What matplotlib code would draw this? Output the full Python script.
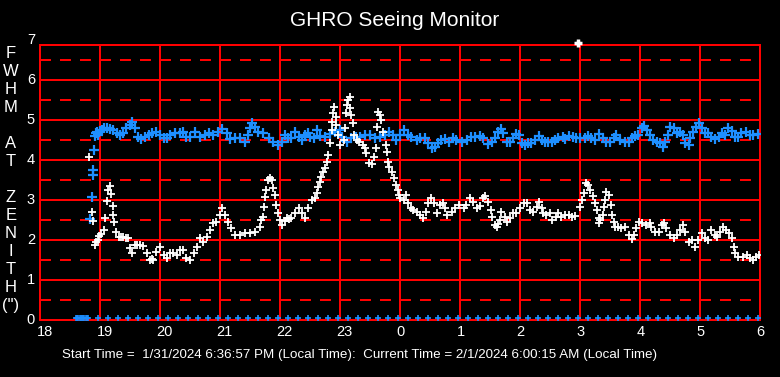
import matplotlib
matplotlib.use("Agg")
import matplotlib.pyplot as plt
import matplotlib.transforms as mtransforms

plt.rcParams['font.family'] = ['Liberation Sans', 'DejaVu Sans']
plt.rcParams['lines.scale_dashes'] = False

# ---------------- data ----------------
# hours since midnight of 1/31 (24 = midnight, 30 = 6 AM)
white_t = [18.82, 18.87, 18.89, 18.92, 18.94, 18.96, 18.99, 19.02, 19.07, 19.09, 19.11, 19.14, 19.17, 19.19,
           19.21, 19.22, 19.24, 19.26, 19.31, 19.35, 19.39, 19.43, 19.46, 19.50, 19.53, 19.58, 19.62, 19.67,
           19.72, 19.78, 19.83, 19.86, 19.89, 19.94, 20.00, 20.06, 20.11, 20.17, 20.22, 20.28, 20.33, 20.39,
           20.44, 20.50, 20.56, 20.61, 20.67, 20.72, 20.78, 20.83, 20.89, 20.94, 21.00, 21.04, 21.08, 21.14,
           21.19, 21.25, 21.33, 21.42, 21.50, 21.58, 21.67, 21.69, 21.71, 21.73, 21.75, 21.77, 21.80, 21.83,
           21.86, 21.89, 21.92, 21.94, 21.97, 22.00, 22.04, 22.08, 22.11, 22.15, 22.19, 22.25, 22.31, 22.36,
           22.42, 22.47, 22.53, 22.58, 22.62, 22.64, 22.67, 22.69, 22.72, 22.75, 22.78, 22.80, 22.83, 22.86,
           22.87, 22.89, 22.90, 22.93, 22.94, 22.97, 23.00, 23.06, 23.08, 23.10, 23.11, 23.14, 23.16, 23.17,
           23.19, 23.22, 23.24, 23.28, 23.32, 23.38, 23.42, 23.44, 23.49, 23.53, 23.57, 23.60, 23.62, 23.64,
           23.67, 23.69, 23.72, 23.77, 23.78, 23.80, 23.82, 23.86, 23.90, 23.93, 23.96, 23.98, 24.00, 24.06,
           24.10, 24.14, 24.18, 24.22, 24.28, 24.33, 24.39, 24.43, 24.47, 24.51, 24.56, 24.61, 24.67, 24.72,
           24.75, 24.79, 24.86, 24.92, 24.99, 25.06, 25.10, 25.17, 25.22, 25.28, 25.33, 25.38, 25.42, 25.47,
           25.51, 25.54, 25.58, 25.62, 25.64, 25.67, 25.69, 25.75, 25.79, 25.83, 25.89, 25.94, 26.00, 26.06,
           26.11, 26.17, 26.22, 26.28, 26.32, 26.36, 26.39, 26.44, 26.50, 26.54, 26.60, 26.64, 26.69, 26.75,
           26.81, 26.86, 26.92, 27.00, 27.03, 27.06, 27.10, 27.14, 27.17, 27.21, 27.25, 27.28, 27.31, 27.32,
           27.34, 27.38, 27.40, 27.42, 27.44, 27.49, 27.51, 27.53, 27.56, 27.58, 27.64, 27.69, 27.75, 27.81,
           27.86, 27.90, 27.94, 27.99, 28.04, 28.10, 28.16, 28.19, 28.25, 28.31, 28.36, 28.40, 28.44, 28.50,
           28.56, 28.61, 28.67, 28.71, 28.75, 28.81, 28.86, 28.92, 28.97, 29.03, 29.08, 29.14, 29.19, 29.25,
           29.29, 29.33, 29.38, 29.43, 29.49, 29.53, 29.56, 29.58, 29.64, 29.72, 29.78, 29.83, 29.89, 29.94,
           29.99]
white_v = [4.07, 2.69, 2.48, 1.88, 1.95, 2.00, 2.10, 2.15, 2.25, 2.54, 2.97, 3.25, 3.36, 3.15,
           2.86, 2.63, 2.44, 2.21, 2.08, 2.08, 2.08, 2.06, 2.05, 1.79, 1.67, 1.88, 1.88, 1.88,
           1.85, 1.67, 1.50, 1.52, 1.50, 1.71, 1.83, 1.63, 1.54, 1.67, 1.67, 1.63, 1.75, 1.75,
           1.54, 1.50, 1.67, 1.83, 2.04, 1.96, 2.08, 2.25, 2.42, 2.46, 2.63, 2.79, 2.63, 2.46,
           2.29, 2.13, 2.13, 2.17, 2.17, 2.21, 2.33, 2.50, 2.58, 2.83, 3.07, 3.25, 3.50, 3.54,
           3.50, 3.29, 3.13, 2.88, 2.67, 2.50, 2.38, 2.48, 2.54, 2.52, 2.54, 2.67, 2.79, 2.67,
           2.54, 2.79, 3.00, 3.04, 3.17, 3.33, 3.46, 3.58, 3.71, 3.79, 3.96, 4.13, 4.42, 4.75,
           4.94, 5.17, 5.33, 5.08, 4.88, 4.63, 4.38, 4.50, 4.79, 5.17, 5.38, 5.50, 5.58, 5.29,
           5.13, 4.92, 4.63, 4.50, 4.46, 4.38, 4.29, 4.17, 3.92, 3.90, 4.08, 4.29, 4.83, 5.21,
           5.13, 5.00, 4.71, 4.38, 4.21, 3.96, 3.83, 3.71, 3.54, 3.38, 3.25, 3.13, 3.04, 3.00,
           3.13, 2.92, 2.79, 2.75, 2.71, 2.63, 2.54, 2.71, 2.92, 3.04, 2.92, 2.67, 2.88, 2.92,
           2.79, 2.63, 2.71, 2.79, 2.88, 2.79, 2.88, 3.04, 2.96, 2.79, 2.85, 3.04, 3.10, 2.94,
           2.75, 2.58, 2.38, 2.33, 2.40, 2.50, 2.71, 2.58, 2.46, 2.54, 2.67, 2.67, 2.79, 2.92,
           2.93, 2.75, 2.71, 2.83, 2.96, 2.79, 2.67, 2.63, 2.67, 2.50, 2.58, 2.67, 2.58, 2.63,
           2.63, 2.58, 2.60, 2.83, 3.00, 3.17, 3.42, 3.38, 3.25, 3.10, 2.92, 2.75, 2.54, 2.42,
           2.50, 2.63, 2.83, 3.01, 3.21, 3.13, 2.88, 2.63, 2.46, 2.33, 2.33, 2.29, 2.33, 2.13,
           2.02, 2.13, 2.29, 2.46, 2.42, 2.38, 2.42, 2.33, 2.21, 2.21, 2.38, 2.42, 2.29, 2.13,
           2.04, 2.13, 2.25, 2.38, 2.21, 1.96, 2.00, 1.83, 2.00, 2.17, 2.04, 2.00, 2.25, 2.13,
           2.08, 2.21, 2.33, 2.25, 2.17, 2.04, 1.83, 1.67, 1.58, 1.58, 1.63, 1.54, 1.50, 1.58,
           1.63]
# off-scale reading near 3 AM
white_out_t = [26.96]
white_out_v = [6.93]

blue_t = [18.83, 18.86, 18.88, 18.89, 18.90, 18.92, 18.93, 18.95, 18.97, 19.00, 19.03, 19.06, 19.11, 19.17,
          19.22, 19.28, 19.33, 19.39, 19.44, 19.50, 19.54, 19.58, 19.64, 19.69, 19.75, 19.81, 19.86, 19.93,
          20.00, 20.06, 20.11, 20.17, 20.25, 20.33, 20.39, 20.44, 20.50, 20.58, 20.67, 20.75, 20.81, 20.89,
          20.97, 21.04, 21.11, 21.17, 21.25, 21.33, 21.42, 21.47, 21.50, 21.54, 21.58, 21.64, 21.72, 21.81,
          21.89, 21.97, 22.03, 22.08, 22.14, 22.19, 22.25, 22.31, 22.36, 22.42, 22.47, 22.50, 22.56, 22.61,
          22.67, 22.75, 22.83, 22.92, 23.00, 23.04, 23.11, 23.18, 23.26, 23.33, 23.42, 23.50, 23.58, 23.67,
          23.75, 23.82, 23.89, 23.94, 24.00, 24.07, 24.14, 24.19, 24.28, 24.33, 24.42, 24.47, 24.53, 24.58,
          24.64, 24.69, 24.75, 24.82, 24.89, 24.94, 25.03, 25.11, 25.18, 25.25, 25.33, 25.39, 25.47, 25.53,
          25.58, 25.64, 25.68, 25.72, 25.78, 25.83, 25.89, 25.94, 25.99, 26.03, 26.08, 26.14, 26.19, 26.25,
          26.31, 26.36, 26.42, 26.47, 26.53, 26.58, 26.64, 26.71, 26.75, 26.82, 26.89, 26.94, 27.00, 27.08,
          27.14, 27.19, 27.25, 27.32, 27.38, 27.44, 27.50, 27.56, 27.60, 27.67, 27.75, 27.81, 27.86, 27.92,
          27.97, 28.03, 28.07, 28.11, 28.17, 28.22, 28.28, 28.33, 28.38, 28.42, 28.46, 28.50, 28.56, 28.61,
          28.67, 28.71, 28.75, 28.81, 28.84, 28.89, 28.93, 28.99, 29.03, 29.08, 29.14, 29.19, 29.25, 29.31,
          29.36, 29.42, 29.47, 29.53, 29.58, 29.64, 29.69, 29.77, 29.83, 29.89, 29.97]
blue_v = [2.52, 3.08, 3.63, 3.75, 4.25, 4.60, 4.67, 4.70, 4.62, 4.72, 4.76, 4.79, 4.80, 4.77,
          4.75, 4.67, 4.63, 4.68, 4.79, 4.88, 4.96, 4.80, 4.58, 4.52, 4.58, 4.63, 4.67, 4.71,
          4.63, 4.54, 4.54, 4.63, 4.68, 4.67, 4.71, 4.58, 4.57, 4.71, 4.58, 4.63, 4.67, 4.63,
          4.71, 4.77, 4.67, 4.52, 4.54, 4.54, 4.46, 4.63, 4.79, 4.92, 4.83, 4.71, 4.67, 4.54,
          4.46, 4.38, 4.46, 4.63, 4.54, 4.54, 4.71, 4.58, 4.50, 4.63, 4.67, 4.58, 4.54, 4.75,
          4.61, 4.58, 4.65, 4.69, 4.75, 4.58, 4.46, 4.54, 4.58, 4.58, 4.63, 4.63, 4.54, 4.57,
          4.63, 4.71, 4.63, 4.50, 4.63, 4.75, 4.63, 4.58, 4.50, 4.54, 4.54, 4.42, 4.29, 4.33,
          4.42, 4.50, 4.52, 4.46, 4.54, 4.50, 4.46, 4.50, 4.58, 4.58, 4.60, 4.56, 4.40, 4.44,
          4.55, 4.70, 4.77, 4.67, 4.46, 4.46, 4.54, 4.65, 4.63, 4.42, 4.38, 4.42, 4.42, 4.50,
          4.60, 4.50, 4.46, 4.46, 4.46, 4.50, 4.54, 4.57, 4.52, 4.60, 4.58, 4.54, 4.54, 4.54,
          4.60, 4.54, 4.50, 4.64, 4.54, 4.46, 4.46, 4.54, 4.63, 4.51, 4.46, 4.46, 4.54, 4.60,
          4.63, 4.79, 4.85, 4.75, 4.63, 4.50, 4.46, 4.42, 4.32, 4.46, 4.63, 4.83, 4.79, 4.67,
          4.71, 4.63, 4.42, 4.38, 4.54, 4.71, 4.83, 4.92, 4.79, 4.67, 4.67, 4.58, 4.52, 4.58,
          4.67, 4.63, 4.79, 4.73, 4.58, 4.58, 4.67, 4.71, 4.63, 4.63, 4.65]

# zero readings (blue) along the baseline
zero_t = [18.60, 18.62, 18.64, 18.66, 18.68, 18.70, 18.72, 18.74, 18.76, 18.78, 18.80,
          18.97, 19.13, 19.30, 19.47, 19.63, 19.80, 19.97, 20.13, 20.30, 20.47, 20.63, 20.80,
          20.97, 21.13, 21.30, 21.47, 21.63, 21.80, 21.97, 22.13, 22.30, 22.47, 22.63, 22.80,
          22.97, 23.13, 23.30, 23.47, 23.63, 23.80, 23.97, 24.13, 24.30, 24.47, 24.63, 24.80,
          24.97, 25.13, 25.30, 25.47, 25.63, 25.80, 25.97, 26.13, 26.30, 26.47, 26.63, 26.80,
          26.97, 27.13, 27.30, 27.47, 27.63, 27.80, 27.97, 28.13, 28.30, 28.47, 28.63, 28.80,
          28.97, 29.13, 29.30, 29.47, 29.63, 29.80, 29.97]
zero_v = [0.0] * len(zero_t)

x_ticks = [18, 19, 20, 21, 22, 23, 24, 25, 26, 27, 28, 29, 30]
x_labels = ["18", "19", "20", "21", "22", "23", "0", "1", "2", "3", "4", "5", "6"]
y_ticks = [0, 1, 2, 3, 4, 5, 6, 7]
ylabel_chars = ["F", "W", "H", "M", "", "A", "T", "", "Z", "E", "N", "I", "T", "H", "(\")"]

title = "GHRO Seeing Monitor"
footer = "Start Time =  1/31/2024 6:36:57 PM (Local Time):  Current Time = 2/1/2024 6:00:15 AM (Local Time)"

# ---------------- figure ----------------
W, H = 780, 377
fig = plt.figure(figsize=(W / 100, H / 100), dpi=100, facecolor="black")
ax = fig.add_axes([40 / W, 1 - 320 / H, 720 / W, 275 / H], facecolor="black")
ax.set_xlim(18, 30)
ax.set_ylim(0, 6.875)

RED = "#ff0000"
BLUE = "#1e8fff"
LW = 1.44

# grid
for yv in [0.5, 1.5, 2.5, 3.5, 4.5, 5.5, 6.5]:
    ax.axhline(yv, color=RED, lw=LW, dashes=(7.9, 6.5), zorder=1, snap=True)
for yv in y_ticks[1:-1]:
    ax.axhline(yv, color=RED, lw=LW, zorder=1, snap=True)
for xv in x_ticks[1:-1]:
    ax.axvline(xv, color=RED, lw=LW, zorder=1, snap=True)
for s in ax.spines.values():
    s.set_color(RED)
    s.set_linewidth(LW)

ax.plot(blue_t, blue_v, linestyle="none", marker="+", color=BLUE, ms=6.5, mew=1.6, zorder=3)
ax.plot(white_t, white_v, linestyle="none", marker="+", color="white", ms=6, mew=1.3, zorder=4)
ax.plot(white_out_t, white_out_v, linestyle="none", marker="+", color="white", ms=5.5, mew=2.5,
        zorder=5, clip_on=False)
off = mtransforms.offset_copy(ax.transData, fig=fig, x=0, y=2, units="dots")
ax.plot(zero_t, zero_v, linestyle="none", marker="+", color=BLUE, ms=4, mew=1.2, zorder=5,
        transform=off, clip_on=False)

ax.set_xticks([])
ax.set_yticks([])

# tick labels
for xv, lab in zip(x_ticks, x_labels):
    ax.annotate(lab, xy=(xv, 0), xycoords="data", xytext=(-3.5, -5), textcoords="offset pixels",
                ha="left", va="top", color="white", fontsize=10.5, annotation_clip=False)
for yv in y_ticks:
    ax.annotate(str(yv), xy=(18, yv), xycoords="data", xytext=(-5, 0), textcoords="offset pixels",
                ha="right", va="center", color="white", fontsize=10.5, annotation_clip=False)

# vertical y-label letters
y0 = 53
for i, ch in enumerate(ylabel_chars):
    if ch:
        fig.text(11 / W, 1 - (y0 + i * 18.05) / H, ch, ha="center", va="center",
                 color="white", fontsize=12)

fig.text(395 / W, 1 - 21 / H, title, ha="center", va="center", color="white", fontsize=15)
fig.text(62 / W, 1 - 355 / H, footer, ha="left", va="center", color="white", fontsize=9.65)

fig.savefig("out.png", dpi=100, facecolor="black")
